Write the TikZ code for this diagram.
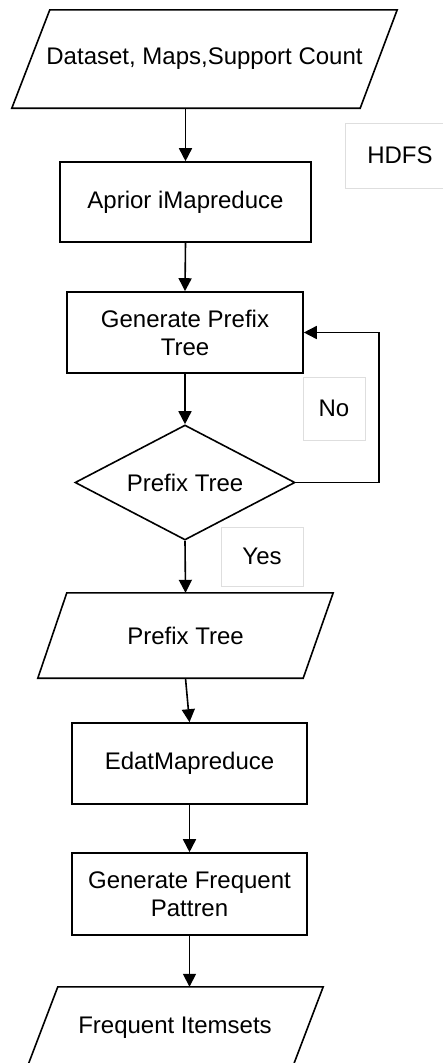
\documentclass[tikz,border=0pt]{standalone}
\usepackage{fontspec}
\setmainfont{Liberation Sans}
\usetikzlibrary{arrows.meta,shapes.geometric}
\begin{document}
\begin{tikzpicture}[x=1pt,y=-1pt,
  every node/.style={font=\fontsize{24}{28}\selectfont, inner sep=0pt, align=center},
  proc/.style={draw, line width=1.6pt, rectangle},
  iobox/.style={rectangle},
  shp/.style={line width=1.6pt, line join=miter},
  dec/.style={draw, diamond, line width=1.6pt, minimum width=220pt, minimum height=115pt, aspect=1.9},
  lbl/.style={draw=black!13, line width=0.8pt, rectangle, fill=white},
  arr/.style={line width=1.6pt, -{Triangle[width=13pt,length=13pt]}}
]
\useasboundingbox (0,0) rectangle (443,1063);

% label boxes
\node[lbl, minimum width=110pt, minimum height=65pt] (hdfs) at (400,155.5) {HDFS};
\node[lbl, minimum width=62pt, minimum height=63pt] (no) at (334,408.5) {No};
\node[lbl, minimum width=82pt, minimum height=59pt] (yes) at (262,556.5) {Yes};

% input parallelogram 1
\node[iobox, minimum width=385pt, minimum height=98pt] (in1) at (204.5,59) {Dataset, Maps,Support Count};
\draw[shp] ([xshift=38pt]in1.north west) -- (in1.north east) -- ([xshift=-37pt]in1.south east) -- (in1.south west) -- cycle;

\node[proc, minimum width=251pt, minimum height=80pt] (r1) at (185.5,202) {Aprior iMapreduce};
\node[proc, minimum width=236pt, minimum height=81pt] (r2) at (185,332.5) {Generate Prefix\\Tree};
\node[dec] (d) at (185,482.5) {Prefix Tree};

\node[iobox, minimum width=295pt, minimum height=85pt] (in2) at (185.5,635.5) {Prefix Tree};
\draw[shp] ([xshift=29pt]in2.north west) -- (in2.north east) -- ([xshift=-30pt]in2.south east) -- (in2.south west) -- cycle;

\node[proc, minimum width=235pt, minimum height=81pt] (r3) at (189.5,763.5) {EdatMapreduce};
\node[proc, minimum width=235pt, minimum height=82pt] (r4) at (189.5,894) {Generate Frequent\\Pattren};

\node[iobox, minimum width=296pt, minimum height=81pt] (in3) at (175,1027.5) {Frequent Itemsets};
\draw[shp] ([xshift=31pt]in3.north west) -- (in3.north east) -- ([xshift=-31pt]in3.south east) -- (in3.south west) -- cycle;

% connectors
\draw[arr] (in1.south -| r1.north) -- (r1.north);
\draw[arr] (r1.south) -- (r2.north);
\draw[arr] (r2.south) -- (d.north);
\draw[arr] (d.east) -- ++(83,0) |- (r2.east);
\draw[arr] (d.south) -- (in2.north);
\draw[arr] (in2.south) -- (r3.north);
\draw[arr] (r3.south) -- (r4.north);
\draw[arr] (r4.south) -- (r4.south |- in3.north);
\end{tikzpicture}
\end{document}
